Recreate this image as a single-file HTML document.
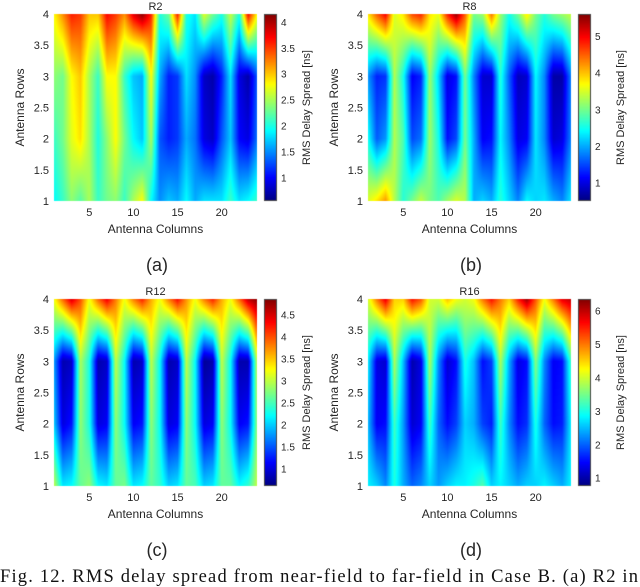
<!DOCTYPE html>
<html><head><meta charset="utf-8">
<style>
html,body{margin:0;padding:0;background:#fff;}
#root{position:relative;width:640px;height:587px;overflow:hidden;background:#fff;}
canvas{position:absolute;}
svg{position:absolute;left:0;top:0;}
text{font-family:"Liberation Sans",sans-serif;fill:#262626;}
text.cap{font-family:"Liberation Serif",serif;fill:#111;}
</style></head>
<body>
<div id="root">
<canvas id="cv" width="640" height="587" style="left:0;top:0"></canvas>
<svg id="ov" width="640" height="587"></svg>
</div>
<script>
// ---- data: rows 1..4, columns 1..24 ----
const columns = [1,2,3,4,5,6,7,8,9,10,11,12,13,14,15,16,17,18,19,20,21,22,23,24];
const rows = [1,2,3,4];
const r2Row1 = [1.9,2.1,2.4,2.2,2.5,2.1,2.3,2.4,2.1,2.5,2.8,1.9,1.5,1.7,1.6,1.9,1.6,1.8,1.8,1.8,2.1,1.8,1.9,2.1];
const r2Row2 = [2.1,2.3,2.7,2.9,2.5,2.0,2.4,2.8,2.3,1.9,1.7,2.5,1.3,1.1,1.2,1.6,1.4,0.9,0.8,1.3,1.7,1.0,0.9,1.4];
const r2Row3 = [2.4,2.3,2.8,3.0,2.5,2.1,2.8,2.8,2.1,1.7,1.6,2.8,1.6,1.1,1.2,1.8,1.5,0.8,0.7,1.1,1.8,0.9,0.7,1.3];
const r2Row4 = [2.8,3.2,3.6,3.5,3.0,3.0,3.7,3.5,3.2,3.8,4.1,3.6,2.0,2.3,3.6,2.0,1.8,2.7,2.3,2.0,2.6,2.0,3.7,2.8];
const r8Row1 = [3.5,3.8,4.2,3.3,2.6,3.0,3.4,3.0,2.8,3.2,3.5,3.3,2.0,2.2,2.0,2.6,2.2,1.8,2.4,2.2,2.3,2.0,1.8,2.3];
const r8Row2 = [2.5,1.6,1.9,3.3,2.8,1.5,1.7,3.2,2.5,1.2,1.5,3.0,2.0,1.1,1.2,2.4,1.8,1.0,1.1,2.3,1.8,0.9,1.0,1.8];
const r8Row3 = [1.9,1.3,1.4,3.3,2.5,1.1,1.3,3.2,2.2,1.0,1.2,3.0,1.8,0.9,0.9,2.6,1.6,0.8,0.9,2.4,1.8,0.7,0.7,1.8];
const r8Row4 = [3.8,4.5,5.0,3.5,3.8,4.6,4.8,3.8,3.6,4.8,5.5,4.5,3.0,3.2,4.4,3.2,2.5,3.0,3.8,3.0,2.6,3.0,3.2,3.4];
const r12Row1 = [3.0,2.1,2.2,2.6,2.8,2.2,2.1,2.6,2.7,2.1,2.2,2.6,2.4,2.0,2.1,2.6,2.5,2.0,2.1,2.6,2.6,2.2,2.4,3.0];
const r12Row2 = [2.0,1.0,1.2,2.8,2.3,1.0,1.1,2.8,2.2,1.1,1.2,2.8,2.2,1.0,1.1,2.8,2.2,1.0,1.1,2.8,2.2,1.1,1.2,2.8];
const r12Row3 = [1.8,0.8,0.9,2.9,2.3,0.8,0.9,3.0,2.2,0.8,0.9,3.0,2.2,0.8,0.9,3.0,2.2,0.7,0.8,3.0,2.2,0.8,0.8,3.0];
const r12Row4 = [3.2,3.9,4.5,4.0,3.2,3.9,4.4,3.8,3.2,3.8,4.2,3.6,3.2,3.8,4.3,3.7,3.2,3.8,4.2,3.6,3.2,3.9,4.6,4.8];
const r16Row1 = [2.8,2.6,2.2,3.0,2.4,2.0,2.2,2.6,2.3,2.6,2.8,2.8,3.0,3.3,2.6,2.8,2.6,2.4,2.6,2.6,2.8,2.6,2.4,2.8];
const r16Row2 = [2.5,1.4,1.5,3.2,2.3,1.2,1.4,3.2,2.0,1.5,1.8,2.6,2.4,1.8,1.6,3.2,2.2,1.5,1.7,3.0,2.0,1.5,1.6,2.8];
const r16Row3 = [2.8,1.3,1.2,3.8,2.5,1.0,1.3,3.8,2.2,1.2,1.5,3.0,2.5,1.5,1.8,3.8,2.4,1.3,1.5,3.6,2.2,1.4,1.5,3.2];
const r16Row4 = [4.0,5.0,5.8,4.5,4.5,5.6,5.2,4.0,4.0,4.6,4.2,4.0,4.2,5.0,5.6,5.0,4.5,5.5,6.2,5.2,4.2,5.0,5.8,6.0];
const titles = ["R2","R8","R12","R16"];
const subLabels = ["(a)","(b)","(c)","(d)"];
const cRangeMin = [0.55,0.5,0.6,0.75];
const cRangeMax = [4.15,5.6,4.85,6.35];
const cbTicksA = [1,1.5,2,2.5,3,3.5,4];
const cbTicksB = [1,2,3,4,5];
const cbTicksC = [1,1.5,2,2.5,3,3.5,4,4.5];
const cbTicksD = [1,2,3,4,5,6];
const xTicks = [5,10,15,20];
const yTicks = [1,1.5,2,2.5,3,3.5,4];

const panels = [
  {grid:[r2Row1,r2Row2,r2Row3,r2Row4], cb:cbTicksA, x0:54, y0:14},
  {grid:[r8Row1,r8Row2,r8Row3,r8Row4], cb:cbTicksB, x0:368, y0:14},
  {grid:[r12Row1,r12Row2,r12Row3,r12Row4], cb:cbTicksC, x0:54, y0:299},
  {grid:[r16Row1,r16Row2,r16Row3,r16Row4], cb:cbTicksD, x0:368, y0:299}
];
const PW = 203, PH = 187;

function jet(t){
  t = Math.max(0, Math.min(1, t));
  const f = v => Math.max(0, Math.min(1, v));
  const r = f(1.5 - Math.abs(4*t - 3));
  const g = f(1.5 - Math.abs(4*t - 2));
  const b = f(1.5 - Math.abs(4*t - 1));
  return [r*255, g*255, b*255];
}

const cv = document.getElementById('cv');
const ctx = cv.getContext('2d');
const svg = document.getElementById('ov');
const NS = 'http://www.w3.org/2000/svg';
function el(tag, attrs, txt){
  const e = document.createElementNS(NS, tag);
  for (const k in attrs) e.setAttribute(k, attrs[k]);
  if (txt !== undefined) e.textContent = txt;
  svg.appendChild(e);
  return e;
}

panels.forEach((p, pi) => {
  const xs = v => p.x0 + (v - columns[0]) / (columns[columns.length-1] - columns[0]) * PW;
  const ys = v => p.y0 + PH - (v - rows[0]) / (rows[rows.length-1] - rows[0]) * PH;
  const vmin = cRangeMin[pi], vmax = cRangeMax[pi];
  const img = ctx.createImageData(PW, PH);
  const nc = columns.length, nr = rows.length;
  for (let py = 0; py < PH; py++) {
    const rv = (nr-1) * (1 - (py + 0.5) / PH);
    const r0 = Math.min(nr-2, Math.floor(rv)), fr = rv - r0;
    for (let px = 0; px < PW; px++) {
      const cvv = (nc-1) * (px + 0.5) / PW;
      const c0 = Math.min(nc-2, Math.floor(cvv)), fc = cvv - c0;
      const g = p.grid;
      const v = (g[r0][c0]*(1-fc) + g[r0][c0+1]*fc)*(1-fr) + (g[r0+1][c0]*(1-fc) + g[r0+1][c0+1]*fc)*fr;
      const col = jet((v - vmin) / (vmax - vmin));
      const i = (py*PW + px)*4;
      img.data[i]=col[0]; img.data[i+1]=col[1]; img.data[i+2]=col[2]; img.data[i+3]=255;
    }
  }
  ctx.putImageData(img, p.x0, p.y0);
  const cbx = p.x0 + 210, cbw = 13;
  for (let py = 0; py < PH; py++) {
    const col = jet(1 - (py + 0.5) / PH);
    ctx.fillStyle = `rgb(${col[0]|0},${col[1]|0},${col[2]|0})`;
    ctx.fillRect(cbx, p.y0 + py, cbw, 1);
  }
  ctx.strokeStyle = '#444'; ctx.lineWidth = 1;
  ctx.strokeRect(cbx + 0.5, p.y0 + 0.5, cbw - 1, PH - 1);
  const cbs = v => p.y0 + PH - (v - vmin) / (vmax - vmin) * PH;

  const t = el('text', {x: p.x0 + PW/2, y: p.y0 - 4, 'text-anchor':'middle', 'font-size':11});
  t.textContent = titles[pi];
  
  
  yTicks.forEach(v => {
    const e = el('text', {x: p.x0 - 5, y: ys(v) + 4, 'text-anchor':'end', 'font-size':11}, String(v));
    
    
  });
  xTicks.forEach(v => {
    const e = el('text', {x: xs(v), y: p.y0 + PH + 15, 'text-anchor':'middle', 'font-size':11}, String(v));
    
    
  });
  p.cb.forEach(v => {
    const e = el('text', {x: cbx + cbw + 4, y: cbs(v) + 4, 'font-size':10}, String(v));
    
    
  });
  const xt = el('text', {x: p.x0 + PW/2, y: p.y0 + PH + 32, 'text-anchor':'middle', 'font-size':12}, 'Antenna Columns');
  
  
  const ycx = p.x0 - 30, ycy = p.y0 + PH/2;
  const yt = el('text', {x: ycx, y: ycy, 'text-anchor':'middle', 'font-size':12, transform:`rotate(-90 ${ycx} ${ycy})`}, 'Antenna Rows');
  
  
  const ccx = cbx + cbw + 33, ccy = p.y0 + PH/2;
  const ct = el('text', {x: ccx, y: ccy, 'text-anchor':'middle', 'font-size':11, transform:`rotate(-90 ${ccx} ${ccy})`}, 'RMS Delay Spread [ns]');
  
  
  const sl = el('text', {x: p.x0 + 103, y: p.y0 + PH + 70, 'text-anchor':'middle', 'font-size':18}, subLabels[pi]);
  
  
});
const cap = el('text', {x: 0, y: 582, 'font-size':18.5, 'font-family':'Liberation Serif, serif', class:'cap', textLength: 638, lengthAdjust:'spacing'}, 'Fig. 12.   RMS delay spread from near-field to far-field in Case B. (a) R2 in');


</script>
</body></html>
